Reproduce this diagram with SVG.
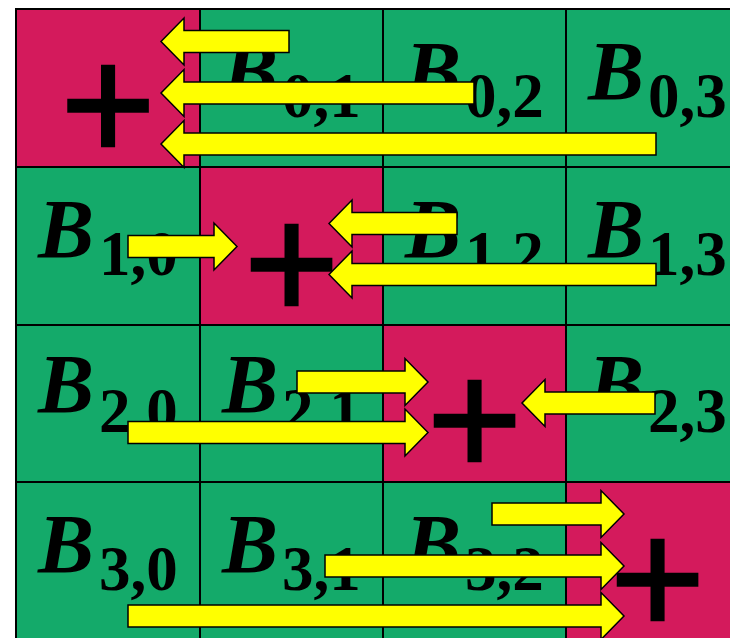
<svg xmlns="http://www.w3.org/2000/svg" width="730" height="638" viewBox="0 0 730 638">
<defs>
<style>
.g{fill:#14AA6A;stroke:#000;stroke-width:2}
.r{fill:#D41A5C;stroke:#000;stroke-width:2}
.b{font-family:"Liberation Serif",serif;font-weight:bold;font-style:italic;font-size:84px;fill:#000}
.s{font-family:"Liberation Serif",serif;font-weight:bold;font-style:normal;font-size:63px;fill:#000}
.p{font-family:"Liberation Sans",sans-serif;font-weight:normal;font-size:163px;fill:#000;stroke:#000;stroke-width:2.4;text-anchor:middle}
.a{fill:#FFFF00;stroke:#000;stroke-width:1.5;stroke-linejoin:miter}
</style>
</defs>
<rect width="730" height="638" fill="#fff"/>
<g id="cells">
<g id="c00"><rect class="r" x="16" y="9" width="184" height="158"/><text class="p" x="108" y="159.5">+</text></g>
<g id="c01"><rect class="g" x="200" y="9" width="183" height="158"/><text class="b" x="222" y="100">B<tspan class="s" x="282" y="117">0,1</tspan></text></g>
<g id="c02"><rect class="g" x="383" y="9" width="183" height="158"/><text class="b" x="405" y="100">B<tspan class="s" x="465" y="117">0,2</tspan></text></g>
<g id="c03"><rect class="g" x="566" y="9" width="183" height="158"/><text class="b" x="588" y="100">B<tspan class="s" x="648" y="117">0,3</tspan></text></g>

<g id="c10"><rect class="g" x="16" y="167" width="184" height="158"/><text class="b" x="38" y="258">B<tspan class="s" x="99" y="275">1,0</tspan></text></g>
<g id="c11"><rect class="r" x="200" y="167" width="183" height="158"/><text class="p" x="291.5" y="318.5">+</text></g>
<g id="c12"><rect class="g" x="383" y="167" width="183" height="158"/><text class="b" x="405" y="258">B<tspan class="s" x="465" y="275">1,2</tspan></text></g>
<g id="c13"><rect class="g" x="566" y="167" width="183" height="158"/><text class="b" x="588" y="258">B<tspan class="s" x="648" y="275">1,3</tspan></text></g>

<g id="c20"><rect class="g" x="16" y="325" width="184" height="157"/><text class="b" x="38" y="413">B<tspan class="s" x="99" y="432">2,0</tspan></text></g>
<g id="c21"><rect class="g" x="200" y="325" width="183" height="157"/><text class="b" x="222" y="413">B<tspan class="s" x="282" y="432">2,1</tspan></text></g>
<g id="c22"><rect class="r" x="383" y="325" width="183" height="157"/><text class="p" x="474.5" y="474.5">+</text></g>
<g id="c23"><rect class="g" x="566" y="325" width="183" height="157"/><text class="b" x="588" y="413">B<tspan class="s" x="648" y="432">2,3</tspan></text></g>

<g id="c30"><rect class="g" x="16" y="482" width="184" height="158"/><text class="b" x="38" y="573">B<tspan class="s" x="99" y="590">3,0</tspan></text></g>
<g id="c31"><rect class="g" x="200" y="482" width="183" height="158"/><text class="b" x="222" y="573">B<tspan class="s" x="282" y="590">3,1</tspan></text></g>
<g id="c32"><rect class="g" x="383" y="482" width="183" height="158"/><text class="b" x="405" y="573">B<tspan class="s" x="465" y="590">3,2</tspan></text></g>
<g id="c33"><rect class="r" x="566" y="482" width="183" height="158"/><text class="p" x="657.5" y="633.5">+</text></g>
</g>
<g id="connectors">
<path class="a" d="M161,41.5 L184,18 L184,30.5 L289,30.5 L289,52.5 L184,52.5 L184,65 Z"/>
<path class="a" d="M161,93 L184,69.5 L184,82 L474,82 L474,104 L184,104 L184,116.5 Z"/>
<path class="a" d="M161,144 L184,120.5 L184,133 L656,133 L656,155 L184,155 L184,167.5 Z"/>

<path class="a" d="M237,246.5 L214,223 L214,235.5 L128,235.5 L128,257.5 L214,257.5 L214,270 Z"/>
<path class="a" d="M329,223.5 L352,200 L352,212.5 L457,212.5 L457,234.5 L352,234.5 L352,247 Z"/>
<path class="a" d="M329,274.5 L352,251 L352,263.5 L656,263.5 L656,285.5 L352,285.5 L352,298 Z"/>

<path class="a" d="M428,382 L405,358.5 L405,371 L297,371 L297,393 L405,393 L405,405.5 Z"/>
<path class="a" d="M428,432.5 L405,409 L405,421.5 L128,421.5 L128,443.5 L405,443.5 L405,456 Z"/>
<path class="a" d="M522,403 L545,379.5 L545,392 L655,392 L655,414 L545,414 L545,426.5 Z"/>

<path class="a" d="M624,514 L601,490.5 L601,503 L492,503 L492,525 L601,525 L601,537.5 Z"/>
<path class="a" d="M624,566 L601,542.5 L601,555 L325,555 L325,577 L601,577 L601,589.5 Z"/>
<path class="a" d="M624,616 L601,592.5 L601,605 L128,605 L128,627 L601,627 L601,639.5 Z"/>
</g>
</svg>
